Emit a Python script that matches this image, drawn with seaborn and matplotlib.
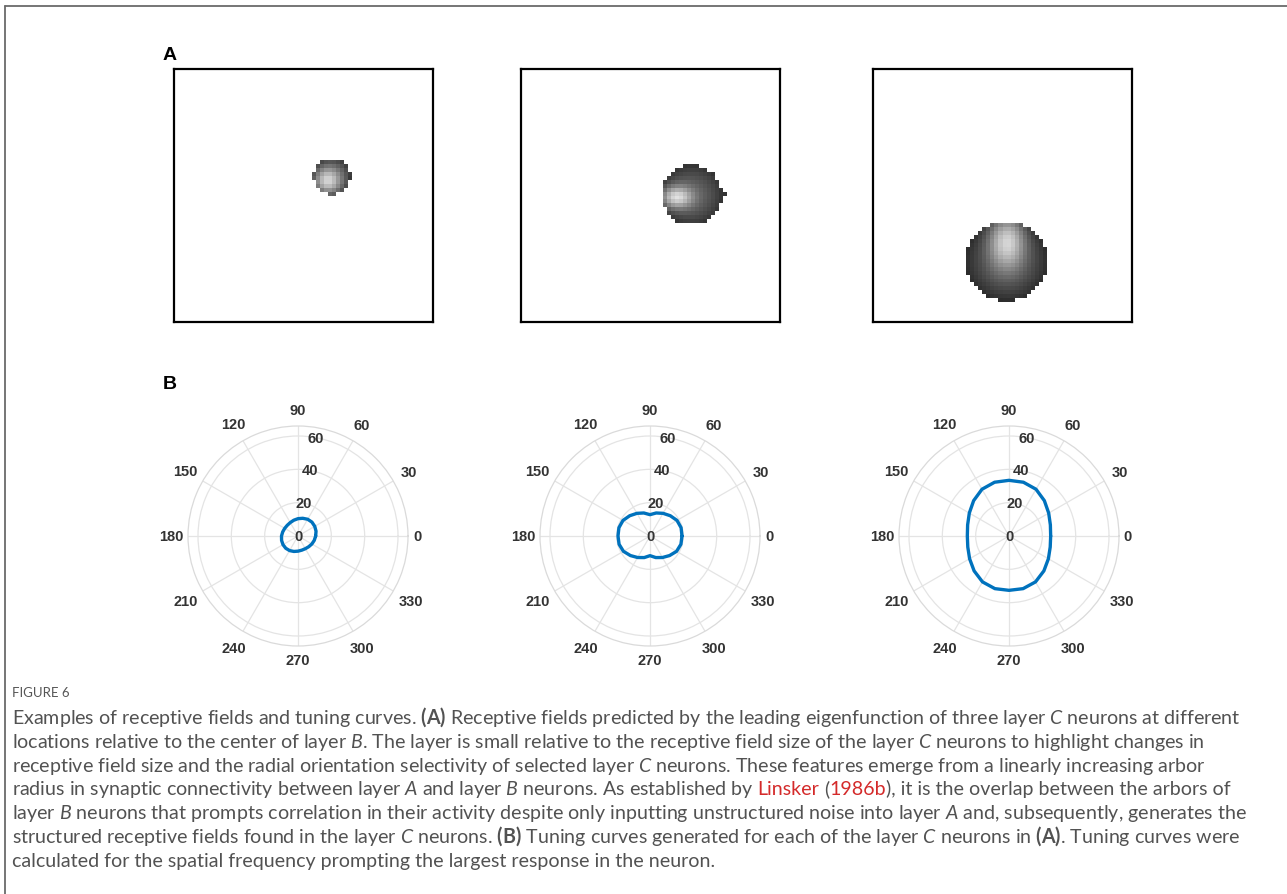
import numpy as np
import pandas as pd
import matplotlib
matplotlib.use("Agg")
import matplotlib.pyplot as plt
from matplotlib.lines import Line2D
import seaborn as sns

# ---------------- data ----------------
angles_deg = [0, 15, 30, 45, 60, 75, 90, 105, 120, 135, 150, 165,
              180, 195, 210, 225, 240, 255, 270, 285, 300, 315, 330, 345]
tuning_1 = [10.6, 11.2, 11.6, 11.8, 11.6, 11.0, 10.4, 9.8, 9.3, 9.1, 9.2, 9.5,
            9.9, 10.2, 10.4, 10.4, 10.1, 9.6, 9.1, 8.8, 8.8, 9.1, 9.6, 10.1]
tuning_2 = [19.2, 19.3, 18.7, 17.2, 15.7, 14.3, 12.8, 14.3, 15.7, 17.2, 18.7, 19.3,
            19.2, 19.2, 18.4, 16.6, 14.9, 13.4, 11.8, 13.4, 14.9, 16.6, 18.4, 19.2]
tuning_3 = [25.0, 25.7, 27.5, 30.0, 32.4, 33.4, 33.4, 33.4, 32.4, 30.0, 27.5, 25.7,
            25.0, 25.6, 27.3, 29.6, 31.8, 32.7, 32.6, 32.7, 31.8, 29.6, 27.3, 25.6]
theta_ticks = [0, 30, 60, 90, 120, 150, 180, 210, 240, 270, 300, 330]
theta_tick_labels = ["0", "30", "60", "90", "120", "150", "180", "210", "240", "270", "300", "330"]
radial_ticks = [0, 20, 40, 60]
radial_tick_labels = ["0", "20", "40", "60"]
r_max = 66

# receptive fields (64 x 64 grid, in cell units)
rf_center_col = [39.0, 42.2, 33.1]
rf_center_row = [27.1, 31.9, 48.6]
rf_radius = [4.6, 7.6, 10.1]
rf_peak_dcol = [-1.0, -3.6, 0.0]
rf_peak_drow = [1.0, 0.5, -4.5]
rf_spread_col = [3.0, 3.8, 4.2]
rf_spread_row = [3.0, 2.8, 6.5]
rf_peak_value = [0.84, 0.88, 0.84]
rf_edge_value = [0.22, 0.2, 0.17]
rf_extra_row = [27, 31, None]
rf_extra_col = [43, 50, None]

# ---------------- figure ----------------
W, H, DPI = 1287, 895, 100
sns.set_style("white")
plt.rcParams["font.family"] = ["Liberation Sans", "DejaVu Sans"]
plt.rcParams["mathtext.fontset"] = "custom"
plt.rcParams["mathtext.rm"] = "Lato"
plt.rcParams["mathtext.it"] = "Lato:italic"
plt.rcParams["mathtext.bf"] = "Lato:bold"
fig = plt.figure(figsize=(W / DPI, H / DPI), dpi=DPI, facecolor="white")


def px_axes(x0, y0, w, h, **kw):
    return fig.add_axes([x0 / W, 1 - (y0 + h) / H, w / W, h / H], **kw)


# page frame
fig.add_artist(Line2D([5 / W, 1.0], [1 - 7 / H, 1 - 7 / H], transform=fig.transFigure,
                      color="#6a6a6a", lw=1.3))
fig.add_artist(Line2D([5 / W, 5 / W], [0, 1 - 7 / H], transform=fig.transFigure,
                      color="#6a6a6a", lw=1.3))

# panel labels
fig.text(163 / W, 1 - 60 / H, "A", fontsize=14, fontweight="bold", color="black", ha="left", va="baseline")
fig.text(163 / W, 1 - 389 / H, "B", fontsize=14, fontweight="bold", color="black", ha="left", va="baseline")

# ---- panel A: receptive fields ----
box_left = [174, 521, 873]
box_top, box_w, box_h = 70, 259, 253
n = 64
rows, cols = np.mgrid[0:n, 0:n] + 0.5
for i in range(3):
    ax = px_axes(box_left[i], box_top, box_w, box_h)
    cc, cr, rad = rf_center_col[i], rf_center_row[i], rf_radius[i]
    dist = np.hypot(cols - cc, rows - cr)
    inside = dist <= rad
    pc, pr = cc + rf_peak_dcol[i], cr + rf_peak_drow[i]
    shade = np.exp(-((cols - pc) / rf_spread_col[i]) ** 2 - ((rows - pr) / rf_spread_row[i]) ** 2)
    dist_edge = np.clip(dist / rad, 0, 1)
    base = rf_edge_value[i] + 0.18 * (1 - dist_edge ** 2)
    val = base + (rf_peak_value[i] - base) * shade
    img = np.full((n, n), np.nan)
    img[inside] = val[inside]
    if rf_extra_row[i] is not None:
        img[rf_extra_row[i], rf_extra_col[i]] = rf_edge_value[i]
    sns.heatmap(img, ax=ax, cmap="gray", vmin=0, vmax=1, cbar=False,
                xticklabels=False, yticklabels=False)
    ax.set_facecolor("white")
    for s in ax.spines.values():
        s.set_visible(True)
        s.set_color("black")
        s.set_linewidth(1.6)
    ax.set_xlabel("")
    ax.set_ylabel("")

# ---- panel B: tuning curves ----
centers_x = [298, 650, 1009]
cy, R = 537, 110
label_px = [119, 128, 128, 126, 129, 130, 127, 130, 129, 124, 129, 130]  # label distance from centre
for cx, r_vals in zip(centers_x, [tuning_1, tuning_2, tuning_3]):
    ax = px_axes(cx - R, cy - R, 2 * R, 2 * R, projection="polar")
    df = pd.DataFrame({"theta": np.deg2rad(angles_deg + [360]),
                       "r": r_vals + [r_vals[0]]})
    ax.set_xticks(np.deg2rad(theta_ticks))
    ax.set_xticklabels([])
    ax.set_yticks(radial_ticks)
    ax.set_yticklabels([])
    ax.set_ylim(0, r_max)
    ax.grid(True, color="#e4e4e4", lw=0.9)
    ax.spines["polar"].set_color("#dadada")
    ax.spines["polar"].set_linewidth(0.9)
    sns.lineplot(data=df, x="theta", y="r", ax=ax, sort=False, estimator=None,
                 color="#0072BD", lw=2.4)
    ax.set_ylim(0, r_max)
    ax.set_xlabel("")
    ax.set_ylabel("")
    for tv, lab, lp in zip(theta_ticks, theta_tick_labels, label_px):
        ax.text(np.deg2rad(tv), r_max * lp / R, lab, ha="center", va="center", fontsize=10.5,
                fontweight="bold", color="#333333", clip_on=False)
    for rv, lab in zip(radial_ticks, radial_tick_labels):
        ax.text(np.deg2rad(80), rv, lab, ha="center", va="center", fontsize=10.5,
                fontweight="bold", color="#333333", zorder=5)

# ---- caption ----
renderer = fig.canvas.get_renderer()
cap_family = ["Lato", "DejaVu Sans"]
cap_color = "#525252"
red = "#d42a2a"

line1 = (r"Examples of receptive fields and tuning curves. $\mathbf{(A)}$ Receptive fields "
         r"predicted by the leading eigenfunction of three layer $\mathit{C}$ neurons at different")


def text_width(s, size, color=cap_color):
    t = fig.text(0, 0, s, family=cap_family, size=size, color=color)
    w = t.get_window_extent(renderer).width
    t.remove()
    return w


# font size chosen so the first caption line spans the same width as in the original
size0 = 14.0
cap_size = size0 * (1230.0 / text_width(line1, size0))


def advance(s):
    return text_width("|" + s + "|", cap_size) - text_width("||", cap_size)


def draw_segments(x0, y_base, segments):
    x = x0
    space = advance(" ")
    for txt, col in segments:
        lead = len(txt) - len(txt.lstrip(" "))
        core = txt.lstrip(" ")
        fig.text((x + lead * space) / W, 1 - y_base / H, core, family=cap_family,
                 size=cap_size, color=col, ha="left", va="baseline")
        x += advance(txt)


fig.text(12 / W, 1 - 697 / H, "FIGURE 6", family=["Lato", "DejaVu Sans"],
         size=9.5, color="#555555", ha="left", va="baseline")

caption_lines = [
    [(line1, cap_color)],
    [(r"locations relative to the center of layer $\mathit{B}$. The layer is small relative to the "
      r"receptive field size of the layer $\mathit{C}$ neurons to highlight changes in", cap_color)],
    [(r"receptive field size and the radial orientation selectivity of selected layer $\mathit{C}$ "
      r"neurons. These features emerge from a linearly increasing arbor", cap_color)],
    [(r"radius in synaptic connectivity between layer $\mathit{A}$ and layer $\mathit{B}$ neurons. "
      r"As established by ", cap_color), ("Linsker", red), (" (", cap_color), ("1986b", red),
     ("), it is the overlap between the arbors of", cap_color)],
    [(r"layer $\mathit{B}$ neurons that prompts correlation in their activity despite only inputting "
      r"unstructured noise into layer $\mathit{A}$ and, subsequently, generates the", cap_color)],
    [(r"structured receptive fields found in the layer $\mathit{C}$ neurons. $\mathbf{(B)}$ Tuning "
      r"curves generated for each of the layer $\mathit{C}$ neurons in $\mathbf{(A)}$. Tuning curves were",
      cap_color)],
    [("calculated for the spatial frequency prompting the largest response in the neuron.", cap_color)],
]
for k, segs in enumerate(caption_lines):
    draw_segments(12, 724 + 23.8 * k, segs)

fig.savefig("out.png", dpi=DPI, facecolor="white")
